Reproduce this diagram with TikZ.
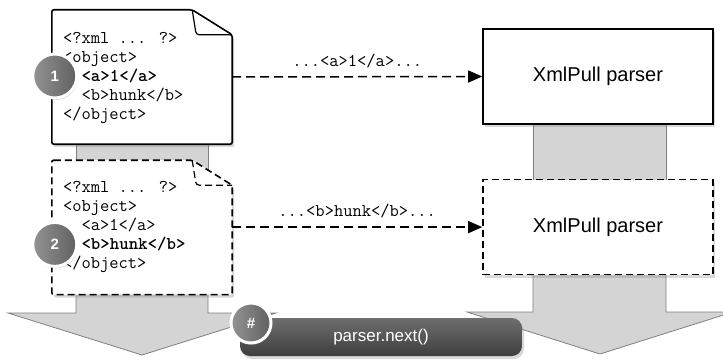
\documentclass[tikz,border=0pt]{standalone}
\usepackage{fontspec}
\setmainfont{Liberation Sans}
\setsansfont{Liberation Sans}
\usepackage{tikz}
\usetikzlibrary{arrows.meta, positioning, calc, shadows}
\definecolor{shaftgray}{RGB}{212, 212, 212}
\definecolor{edgegray}{RGB}{128, 128, 128}
\definecolor{badgegray}{RGB}{120, 120, 120}
\definecolor{pilltop}{RGB}{110, 110, 110}
\definecolor{pillbottom}{RGB}{62, 62, 62}

\begin{document}
\begin{tikzpicture}[
    x=1pt, y=-1pt,
    node distance=16pt and 40pt,
    docbox/.style={rectangle, minimum width=180pt, minimum height=134pt, inner sep=0pt},
    docframe/.style={draw=black, fill=white, line width=1.6pt, rounded corners=2pt, drop shadow={shadow xshift=2pt, shadow yshift=-3pt, opacity=0.3}},
    code/.style={align=left, font=\ttfamily\fontsize{18}{19}\selectfont, inner sep=0pt},
    parserbox/.style={rectangle, draw=black, fill=white, line width=1.6pt, minimum width=230pt, minimum height=95pt, font=\sffamily\fontsize{20}{24}\selectfont, drop shadow={shadow xshift=2pt, shadow yshift=-3pt, opacity=0.3}},
    dashes/.style={dash pattern=on 7pt off 4pt},
    shaft/.style={fill=shaftgray, draw=edgegray, line width=0.8pt},
    flow/.style={line width=1.5pt, dash pattern=on 9pt off 5pt, -{Triangle[length=14pt, width=12pt]}},
    flowlabel/.style={font=\ttfamily\fontsize{18}{19}\selectfont, above=5pt},
    badge/.style={circle, left color=badgegray!80, right color=badgegray!80!black, draw=white, line width=3pt, minimum size=44pt, inner sep=0pt, text=white, font=\sffamily\bfseries\fontsize{15}{18}\selectfont, drop shadow={shadow xshift=1pt, shadow yshift=-2pt, opacity=0.3}},
    pill/.style={rectangle, rounded corners=10pt, top color=pilltop, bottom color=pillbottom, minimum width=282pt, minimum height=38pt, text=white, font=\sffamily\fontsize{17}{20}\selectfont, drop shadow={shadow xshift=2pt, shadow yshift=-3pt, opacity=0.3}}
]

    \useasboundingbox (0,0) rectangle (723,361);
    \clip (0,0) rectangle (723,361);

    % Gray pipes behind the boxes
    \draw [shaft] (76,130) rectangle (208,170);
    \draw [shaft] (533,115) rectangle (666,185);
    \draw [shaft] (76,280) -- (76,313) -- (8,313) -- (142,355) -- (276,313) -- (208,313) -- (208,280) -- cycle;
    \draw [shaft] (533,265) -- (533,312) -- (467,312) -- (600,354) -- (733,312) -- (666,312) -- (666,265) -- cycle;

    % Documents
    \node (doc1) [docbox] at (142,77) {};
    \node (doc2) [docbox, below=of doc1] {};

    \draw [docframe] (doc1.north west) -- ($(doc1.north east)+(-40,0)$) -- ($(doc1.north east)+(0,25)$) -- (doc1.south east) -- (doc1.south west) -- cycle;
    \draw [line width=1.2pt, rounded corners=3pt] ($(doc1.north east)+(-40,0)$) -- ($(doc1.north east)+(-36,25)$) -- ($(doc1.north east)+(0,25)$);
    \draw [docframe, dashes] (doc2.north west) -- ($(doc2.north east)+(-40,0)$) -- ($(doc2.north east)+(0,25)$) -- (doc2.south east) -- (doc2.south west) -- cycle;
    \draw [line width=1.2pt, dashes, rounded corners=3pt] ($(doc2.north east)+(-40,0)$) -- ($(doc2.north east)+(-36,25)$) -- ($(doc2.north east)+(0,25)$);

    \node (code1) [code, anchor=west] at ($(doc1.west)+(11,1)$) {<?xml ... ?>\\<object>\\\ \ \textbf{<a>1</a>}\\\ \ <b>hunk</b>\\</object>};
    \node (code2) [code, anchor=west] at ($(doc2.west)+(11,0)$) {<?xml ... ?>\\<object>\\\ \ <a>1</a>\\\ \ \textbf{<b>hunk</b>}\\</object>};

    % Parsers
    \node (parser1) [parserbox] at (598,76.5) {XmlPull parser};
    \node (parser2) [parserbox, dashes, below=54pt of parser1] {XmlPull parser};

    % Flows
    \draw [flow] (doc1.east) -- node [flowlabel] {...<a>1</a>...} (parser1.west);
    \draw [flow] (doc2.east |- parser2.west) -- node [flowlabel] {...<b>hunk</b>...} (parser2.west);

    % Step badges
    \node (step1) [badge] at ($(doc1.west)+(3,-1)$) {1};
    \node (step2) [badge] at ($(doc2.west)+(3,17)$) {2};

    % Call
    \node (call) [pill] at (381,337) {parser.next()};
    \node (stepn) [badge, minimum size=40pt] at (251,323) {\#};

\end{tikzpicture}
\end{document}
